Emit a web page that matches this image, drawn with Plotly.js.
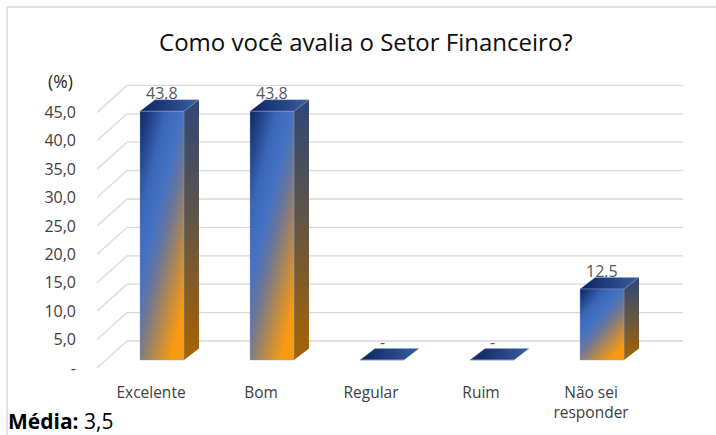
<!DOCTYPE html>
<html><head><meta charset="utf-8">
<script src="https://cdn.plot.ly/plotly-3.0.1.min.js"></script>
<style>body{margin:0;background:#fff}#chart{width:716px;height:435px}</style>
</head><body>
<svg width="0" height="0" style="position:absolute;left:0;top:0">
 <defs>
  <linearGradient id="gFront" x1="0" y1="0" x2="0.7" y2="1">
   <stop offset="0" stop-color="#0d2662"/>
   <stop offset="0.28" stop-color="#3a66b6"/>
   <stop offset="0.45" stop-color="#4472c4"/>
   <stop offset="0.6" stop-color="#69759a"/>
   <stop offset="0.8" stop-color="#b3884f"/>
   <stop offset="1" stop-color="#f99b12"/>
  </linearGradient>
  <linearGradient id="gSide" x1="0" y1="0" x2="0" y2="1">
   <stop offset="0" stop-color="#2f4676"/>
   <stop offset="0.45" stop-color="#5f5547"/>
   <stop offset="1" stop-color="#a86400"/>
  </linearGradient>
  <linearGradient id="gTop" x1="0" y1="0" x2="1" y2="0">
   <stop offset="0" stop-color="#0c2460"/>
   <stop offset="1" stop-color="#3a5da0"/>
  </linearGradient>
 </defs>
</svg>
<div id="chart"></div>
<script>
// ---- data ----
const categories = ["Excelente", "Bom", "Regular", "Ruim", "Não sei<br>responder"];
const values = [43.8, 43.8, 0, 0, 12.5];
const yTicks = [0, 5, 10, 15, 20, 25, 30, 35, 40, 45];
const yTickLabels = ["-", "5,0", "10,0", "15,0", "20,0", "25,0", "30,0", "35,0", "40,0", "45,0"];
const titleText = "Como você avalia o Setor Financeiro?";
const unitText = "(%)";
const meanText = "<b>Média:</b> 3,5";

// ---- geometry (layout only) ----
const barW = 0.4, depthX = 0.136, depthY = 2.02;
const wallOff = 3.35, labelOff = -1.41;
const xMin = -0.591, xMax = 4.736, wallX = -0.318;
const yMin = -2.64, yMax = 49.3;
const FONT = "'Open Sans', Lato, sans-serif";

const shapes = [];
const faceKind = [];
function addShape(s, kind) { shapes.push(s); faceKind.push(kind); }

yTicks.forEach(v => {
  addShape({type:'line', xref:'x', yref:'y', layer:'below', x0:wallX, x1:xMax, y0:v+wallOff, y1:v+wallOff,
    line:{color:'#d9d9d9', width:1.3}}, null);
  addShape({type:'line', xref:'x', yref:'y', layer:'below', x0:xMin, x1:wallX, y0:v+labelOff, y1:v+wallOff,
    line:{color:'#d9d9d9', width:1.3}}, null);
});

values.forEach((v, i) => {
  const xl = i - barW/2, xr = i + barW/2;
  if (v > 0) {
    addShape({type:'path', xref:'x', yref:'y', layer:'below',
      path:`M${xr},0 L${xr},${v} L${xr+depthX},${v+depthY} L${xr+depthX},${depthY} Z`,
      fillcolor:'#6a5540', line:{width:0}}, 'side');
  }
  addShape({type:'path', xref:'x', yref:'y', layer:'below',
    path:`M${xl},${v} L${xr},${v} L${xr+depthX},${v+depthY} L${xl+depthX},${v+depthY} Z`,
    fillcolor:'#1f3a7a', line:{color:'rgba(140,165,215,0.6)', width:0.6}}, 'top');
});

// chart-area border (top and left)
addShape({type:'line', xref:'paper', yref:'paper', x0:-0.1536, x1:1.2, y0:1.2475, y1:1.2475, line:{color:'#d9d9d9', width:1.5}}, null);
addShape({type:'line', xref:'paper', yref:'paper', x0:-0.1536, x1:-0.1536, y0:1.2475, y1:-0.3, line:{color:'#d9d9d9', width:1.5}}, null);

const annotations = values.map((v, i) => ({
  x:i, y:v, xref:'x', yref:'y', yshift:18, showarrow:false, yanchor:'middle',
  text: v === 0 ? '-' : v.toFixed(1).replace('.', ','),
  font:{family:FONT, size:16, color:'#595959'}
}));
annotations.push({xref:'paper', yref:'paper', x:-0.063, y:0.997, xanchor:'center', yanchor:'middle',
  showarrow:false, text:unitText, font:{family:FONT, size:17.5, color:'#262626'}});
annotations.push({xref:'paper', yref:'paper', x:-0.156, y:-0.156, xanchor:'left', yanchor:'middle',
  showarrow:false, text:meanText, font:{family:FONT, size:21, color:'#000'}});

const trace = {
  type:'bar', x:categories.map((c, i) => i), y:values, width:barW,
  marker:{color:'#4472c4', line:{color:'rgba(140,165,215,0.7)', width:0.6}},
  hoverinfo:'skip'
};

const layout = {
  width:716, height:435,
  margin:{l:97, r:33, t:80, b:60, pad:0},
  paper_bgcolor:'#fff', plot_bgcolor:'rgba(0,0,0,0)',
  showlegend:false,
  title:{text:titleText, xref:'container', yref:'container', x:0.511, y:0.901, xanchor:'center', yanchor:'middle',
    font:{family:FONT, size:24, color:'#0d0d0d'}},
  xaxis:{range:[xMin, xMax], tickvals:categories.map((c, i) => i), ticktext:categories,
    showgrid:false, zeroline:false, showline:false, ticks:'', ticklabelshift:-11, ticklabelstandoff:6,
    tickfont:{family:FONT, size:15.5, color:'#404040'}, fixedrange:true},
  yaxis:{range:[yMin, yMax], tickvals:yTicks.map(v => v + labelOff), ticktext:yTickLabels,
    showgrid:false, zeroline:false, showline:false, ticks:'', ticklabelstandoff:20,
    tickfont:{family:FONT, size:16, color:'#404040'}, fixedrange:true},
  shapes:shapes, annotations:annotations
};

Plotly.newPlot('chart', [trace], layout, {displayModeBar:false, staticPlot:true}).then(gd => {
  gd.querySelectorAll('.bars .point path').forEach(p => { p.style.fill = 'url(#gFront)'; });
  gd.querySelectorAll('.shapelayer path').forEach(p => {
    const k = faceKind[+p.getAttribute('data-index')];
    if (k === 'side') p.style.fill = 'url(#gSide)';
    if (k === 'top') p.style.fill = 'url(#gTop)';
  });
});
</script>
</body></html>
